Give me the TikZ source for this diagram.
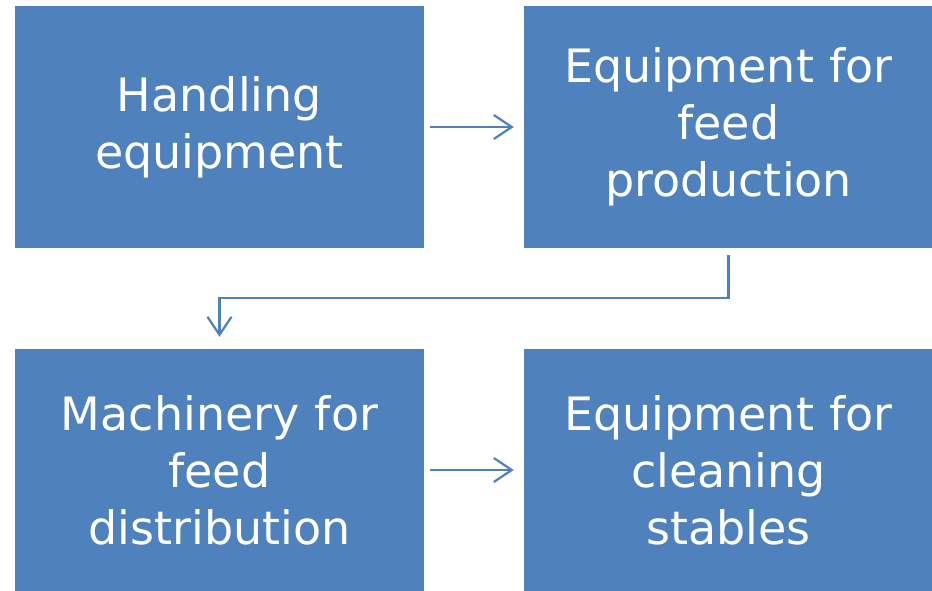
\documentclass[tikz,border=0pt]{standalone}
\usepackage{fontspec}
\setmainfont{DejaVu Sans}
\usepackage{tikz}
\usetikzlibrary{arrows.meta,positioning}
\usepackage{xcolor}
\definecolor{boxblue}{RGB}{79,129,189}
\tikzstyle{stage} = [fill=boxblue, text=white, inner sep=0pt, minimum width=409pt, minimum height=242pt, text width=400pt, align=center, font=\fontsize{46}{57}\selectfont]
\tikzstyle{arrow} = [line width=2.2pt, -{Straight Barb[length=18pt,width=24pt]}, color=boxblue]

\begin{document}
\begin{tikzpicture}[x=1pt, y=-1pt]
\useasboundingbox (0,0) rectangle (932,590);
% Stages
\node[stage] (handling) at (219.5,127) {Handling\\equipment};
\node[stage] (production) at (728.5,127) {Equipment for\\feed\\production};
\node[stage] (distribution) at (219.5,470) {Machinery for\\feed\\distribution};
\node[stage] (cleaning) at (728.5,470) {Equipment for\\cleaning\\stables};

% Arrows
\draw[arrow] ([xshift=6pt]handling.east) -- ([xshift=-10pt]production.west);
\draw[arrow] ([yshift=-7pt]production.south) -- ++(0,43) -| ([yshift=12pt]distribution.north);
\draw[arrow] ([xshift=6pt]distribution.east) -- ([xshift=-10pt]cleaning.west);
\end{tikzpicture}
\end{document}
